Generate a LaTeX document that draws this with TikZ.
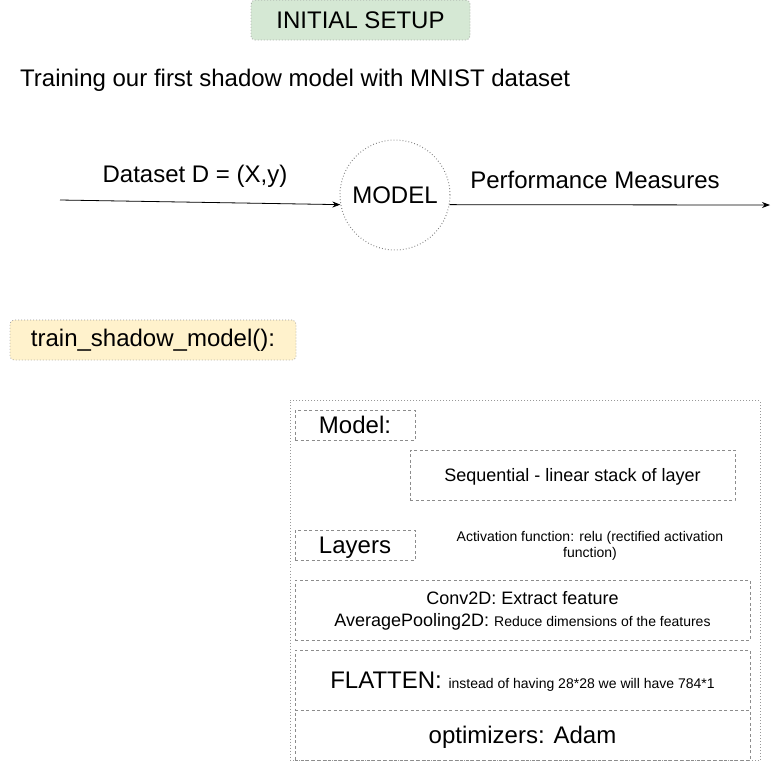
\documentclass[tikz,border=0pt]{standalone}
\usepackage{fontspec}
\setmainfont{Liberation Sans}
\usetikzlibrary{arrows.meta}

\newcommand{\bigtxt}{\fontsize{24}{28}\selectfont}
\newcommand{\midtxt}{\fontsize{18}{22}\selectfont}
\newcommand{\smalltxt}{\fontsize{14}{16.5}\selectfont}

\tikzset{
  dotline/.style={draw=gray!80, line width=0.8pt, dash pattern=on 0.8pt off 2.2pt},
  dashline/.style={draw=gray!90, line width=0.8pt, dash pattern=on 3pt off 2.5pt},
  titlebox/.style={dotline, rounded corners=4pt, inner sep=0pt},
  layerbox/.style={dashline, inner sep=0pt, text depth=0pt},
  flow/.style={-{Stealth[length=8pt,width=6pt]}, line width=0.8pt}
}

\begin{document}
\begin{tikzpicture}[x=1pt, y=-1pt, font=\bigtxt]
        \useasboundingbox (0,0) rectangle (779,761);

        % Heading
        \node[titlebox, fill={rgb,255:red,213;green,232;blue,212}, minimum width=219pt, minimum height=40pt] (setup) at (360.5,20) {INITIAL SETUP};
        \node[anchor=west, inner sep=0pt] (intro) at (20,80) {Training our first shadow model with MNIST dataset};

        % The model with its input and output
        \node[circle, dotline, draw=gray, line width=1pt, minimum size=110pt, inner sep=0pt] (model) at (395,195) {MODEL};
        \coordinate (din) at (60,200);
        \coordinate (pout) at (770,205);
        \draw[flow] (din) -- (model.190);
        \draw[flow] (model.-10) -- (pout);
        \node (dlabel) at (195,176) {Dataset D = (X,y)};
        \node (plabel) at (595,180) {Performance Measures};

        % Function name
        \node[titlebox, fill={rgb,255:red,255;green,242;blue,204}, minimum width=286pt, minimum height=40pt] (func) at (153,340) {train\_shadow\_model():};

        % Outer frame of the function body
        \node[dotline, minimum width=470pt, minimum height=360pt, inner sep=0pt] (body) at (525,580.5) {};

        % Model part
        \node[layerbox, minimum width=120pt, minimum height=30pt] (modeltag) at (355,425) {Model:};
        \node[layerbox, minimum width=325pt, minimum height=50pt, font=\midtxt] (seq) at (572.5,475) {Sequential - linear stack of layer};

        % Layers part
        \node[layerbox, minimum width=120pt, minimum height=30pt] (layertag) at (355,545) {Layers};
        \node[align=center, font=\smalltxt, inner sep=0pt] (act) at (590,546) {Activation function: relu (rectified activation\\function)};

        \node[layerbox, minimum width=455pt, minimum height=60pt, align=center, font=\midtxt, text depth=3pt] (conv) at (522.5,610)
          {Conv2D: Extract feature\\AveragePooling2D: {\smalltxt Reduce dimensions of the features}};
        \node[layerbox, minimum width=455pt, minimum height=60pt] (flat) at (522.5,680)
          {FLATTEN: {\smalltxt instead of having 28*28 we will have 784*1}};
        \node[layerbox, minimum width=455pt, minimum height=50pt] (optim) at (522.5,735) {optimizers: Adam};

      \end{tikzpicture}
\end{document}
